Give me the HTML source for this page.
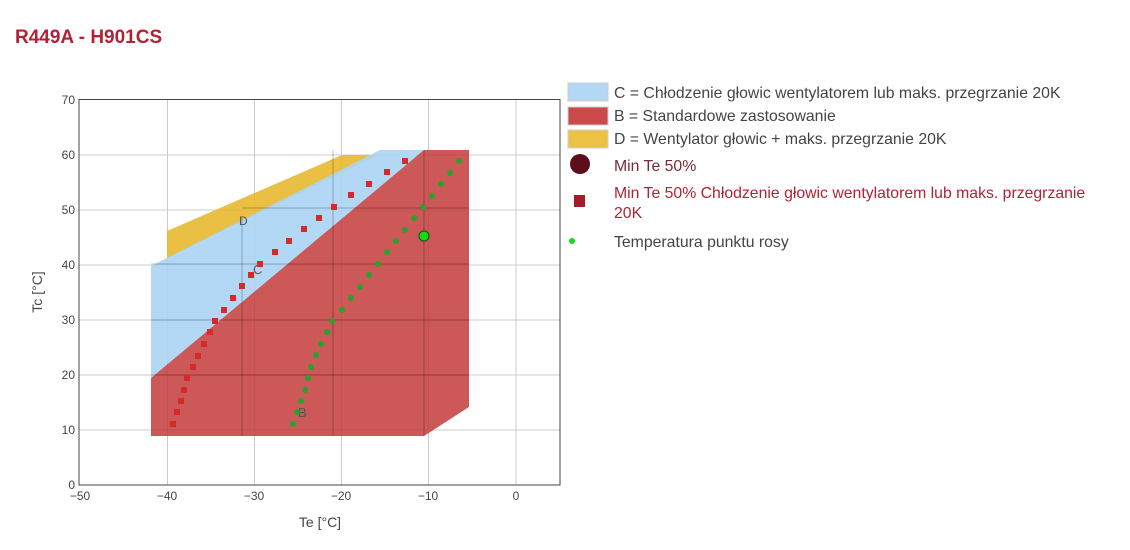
<!DOCTYPE html>
<html><head><meta charset="utf-8"><style>
body{margin:0;background:#fff;width:1130px;height:550px;overflow:hidden}
svg{display:block;font-family:"Liberation Sans",sans-serif}
</style></head><body>
<svg width="1130" height="550" xmlns="http://www.w3.org/2000/svg">
<text x="15" y="43" font-size="19" font-weight="bold" fill="#b22234">R449A - H901CS</text>
<!-- grid -->
<g stroke="#ccc" stroke-width="1">
<line x1="167.5" y1="100" x2="167.5" y2="485"/><line x1="254.5" y1="100" x2="254.5" y2="485"/>
<line x1="341.5" y1="100" x2="341.5" y2="485"/><line x1="428.5" y1="100" x2="428.5" y2="485"/>
<line x1="516" y1="100" x2="516" y2="485"/>
<line x1="79" y1="430" x2="560" y2="430"/><line x1="79" y1="375" x2="560" y2="375"/>
<line x1="79" y1="320" x2="560" y2="320"/><line x1="79" y1="265" x2="560" y2="265"/>
<line x1="79" y1="210" x2="560" y2="210"/><line x1="79" y1="155" x2="560" y2="155"/>
</g>
<!-- areas -->
<polygon points="167,231 342,155 378,155 167,258" fill="#e8b930" opacity="0.9"/>
<polygon points="151,266 380,150 424,150 151,378" fill="#aad4f5" opacity="0.9"/>
<polygon points="151,378 424,150 469,150 469,407 424,436 151,436" fill="#c43b3b" opacity="0.85"/>
<g stroke="#000" stroke-opacity="0.25" stroke-width="1">
<line x1="242" y1="218" x2="242" y2="436"/><line x1="333" y1="150" x2="333" y2="436"/><line x1="424" y1="150" x2="424" y2="436"/>
<line x1="242" y1="208" x2="469" y2="208"/><line x1="151" y1="320" x2="469" y2="320"/>
<line x1="151" y1="375" x2="469" y2="375"/><line x1="151" y1="264" x2="469" y2="264"/>
</g>
<text x="239" y="225" font-size="12" fill="#555">D</text>
<text x="253" y="274" font-size="13" fill="#555">C</text>
<text x="298" y="417" font-size="13" fill="#555">B</text>
<!-- red squares -->
<g fill="#d42a2a">
<rect x="170" y="421" width="6" height="6"/><rect x="174" y="409" width="6" height="6"/><rect x="178" y="398" width="6" height="6"/><rect x="181" y="387" width="6" height="6"/><rect x="184" y="375" width="6" height="6"/><rect x="190" y="364" width="6" height="6"/><rect x="195" y="353" width="6" height="6"/><rect x="201" y="341" width="6" height="6"/><rect x="207" y="329" width="6" height="6"/><rect x="212" y="318" width="6" height="6"/><rect x="221" y="307" width="6" height="6"/><rect x="230" y="295" width="6" height="6"/><rect x="239" y="283" width="6" height="6"/><rect x="248" y="272" width="6" height="6"/><rect x="257" y="261" width="6" height="6"/><rect x="272" y="249" width="6" height="6"/><rect x="286" y="238" width="6" height="6"/><rect x="301" y="226" width="6" height="6"/><rect x="316" y="215" width="6" height="6"/><rect x="331" y="204" width="6" height="6"/><rect x="348" y="192" width="6" height="6"/><rect x="366" y="181" width="6" height="6"/><rect x="384" y="169" width="6" height="6"/><rect x="402" y="158" width="6" height="6"/>
</g>
<!-- green dots -->
<g fill="#2ca02c">
<circle cx="293" cy="424" r="3"/><circle cx="297" cy="412" r="3"/><circle cx="301" cy="401" r="3"/><circle cx="305" cy="390" r="3"/><circle cx="308" cy="378" r="3"/><circle cx="311" cy="367" r="3"/><circle cx="316" cy="355" r="3"/><circle cx="321" cy="344" r="3"/><circle cx="327" cy="332" r="3"/><circle cx="332" cy="321" r="3"/><circle cx="342" cy="310" r="3"/><circle cx="351" cy="298" r="3"/><circle cx="360" cy="287" r="3"/><circle cx="369" cy="275" r="3"/><circle cx="378" cy="264" r="3"/><circle cx="387" cy="252" r="3"/><circle cx="396" cy="241" r="3"/><circle cx="405" cy="230" r="3"/><circle cx="414" cy="218" r="3"/><circle cx="423" cy="207" r="3"/><circle cx="432" cy="196" r="3"/><circle cx="441" cy="184" r="3"/><circle cx="450" cy="173" r="3"/><circle cx="459" cy="161" r="3"/>
</g>
<circle cx="424" cy="236" r="5" fill="#11dd11" stroke="#225522" stroke-width="1.2"/>
<!-- axes frame -->
<rect x="79" y="99.5" width="481" height="385.5" fill="none" stroke="#444" stroke-width="1"/>
<g font-size="12" fill="#444" text-anchor="end">
<text x="75" y="489">0</text><text x="75" y="434">10</text><text x="75" y="379">20</text><text x="75" y="324">30</text><text x="75" y="269">40</text><text x="75" y="214">50</text><text x="75" y="159">60</text><text x="75" y="104">70</text>
</g>
<g font-size="12" fill="#444" text-anchor="middle">
<text x="80" y="500">−50</text><text x="167" y="500">−40</text><text x="254" y="500">−30</text><text x="341" y="500">−20</text><text x="428" y="500">−10</text><text x="516" y="500">0</text>
</g>
<text x="320" y="527" font-size="14" fill="#444" text-anchor="middle">Te [°C]</text>
<text transform="translate(42,292) rotate(-90)" font-size="14" fill="#444" text-anchor="middle">Tc [°C]</text>
<!-- legend -->
<rect x="568" y="83" width="40" height="18" fill="#b3d8f5" stroke="#ccc"/>
<rect x="568" y="107" width="40" height="18" fill="#cc4a4a" stroke="#ccc"/>
<rect x="568" y="130" width="40" height="18" fill="#ebc243" stroke="#ccc"/>
<circle cx="580" cy="164" r="10" fill="#5c0f1a"/>
<rect x="574" y="195" width="11" height="12" fill="#a51c2a"/>
<circle cx="572" cy="241" r="3" fill="#11dd11"/>
<g font-size="15.8" fill="#444">
<text x="614" y="98">C = Chłodzenie głowic wentylatorem lub maks. przegrzanie 20K</text>
<text x="614" y="121">B = Standardowe zastosowanie</text>
<text x="614" y="144">D = Wentylator głowic + maks. przegrzanie 20K</text>
<text x="614" y="171" fill="#7a2a35">Min Te 50%</text>
<text x="614" y="198" fill="#b22234">Min Te 50% Chłodzenie głowic wentylatorem lub maks. przegrzanie</text>
<text x="614" y="218" fill="#b22234">20K</text>
<text x="614" y="247">Temperatura punktu rosy</text>
</g>
</svg>
</body></html>
